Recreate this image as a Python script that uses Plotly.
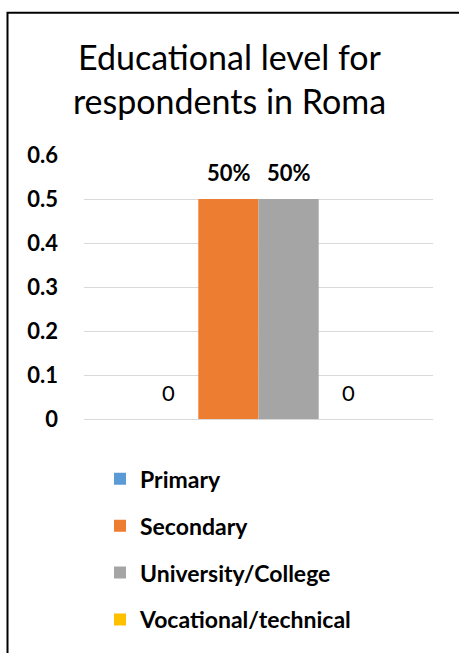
import plotly.graph_objects as go

# Survey result: share of respondents by educational level (Roma)
category = ["Roma"]
series_names = ["Primary", "Secondary", "University/College", "Vocational/technical"]
series_values = [0, 0.5, 0.5, 0]
series_colors = ["#5B9BD5", "#ED7D31", "#A5A5A5", "#FFC000"]
y_ticks = [0, 0.1, 0.2, 0.3, 0.4, 0.5, 0.6]
y_tick_labels = ["0", "0.1", "0.2", "0.3", "0.4", "0.5", "0.6"]

FONT = "Lato"

W, H = 459, 653
ML, MR, MT, MB = 84, 26, 155, 229
PW = W - ML - MR
PH = H - MT - MB


def px_x(p):
    return (p - ML) / PW


def px_y(p):
    return (H - MB - p) / PH


fig = go.Figure()
for i, (name, val, col) in enumerate(zip(series_names, series_values, series_colors)):
    fig.add_trace(go.Bar(
        x=category, y=[val], name=name,
        marker=dict(color=col, line=dict(width=0)),
        legendgroup=name,
    ))

# data labels above each bar, offset within the group
n = len(series_names)
bar_px = 60
for i, val in enumerate(series_values):
    label = f"{val:.0%}" if val > 0 else "0"
    fig.add_annotation(
        x=category[0], y=val, xref="x", yref="y",
        text=f"<b>{label}</b>" if val > 0 else label,
        showarrow=False, yanchor="middle",
        xshift=(i - (n - 1) / 2) * bar_px, yshift=27,
        font=dict(family=FONT, size=22, color="#000000"),
    )

# outer frame of the chart
fig.add_shape(
    type="rect", xref="paper", yref="paper",
    x0=px_x(7.5), x1=px_x(470), y0=px_y(670), y1=px_y(10),
    line=dict(color="#000000", width=2), fillcolor="rgba(0,0,0,0)",
)

fig.update_layout(
    width=W, height=H,
    margin=dict(l=ML, r=MR, t=MT, b=MB, pad=0),
    paper_bgcolor="#FFFFFF", plot_bgcolor="#FFFFFF",
    barmode="group", bargap=0.31, bargroupgap=0,
    title=dict(
        text="Educational level for<br>respondents in Roma",
        x=0.5, xref="container", xanchor="center",
        y=1 - 70 / H, yanchor="middle", yref="container",
        font=dict(family=FONT, size=34, color="#000000"),
    ),
    xaxis=dict(showticklabels=False, showgrid=False, zeroline=False,
               showline=False, ticks=""),
    yaxis=dict(range=[0, 0.6], tickvals=y_ticks, ticktext=y_tick_labels,
               showgrid=True, gridcolor="#D9D9D9", gridwidth=1,
               zeroline=True, zerolinecolor="#D9D9D9", zerolinewidth=1,
               showline=False, ticks="", ticklabelstandoff=25,
               tickfont=dict(family=FONT, size=22, color="#000000",
                             weight="bold")),
    showlegend=True,
    legend=dict(
        orientation="v", x=px_x(100), xanchor="left",
        y=px_y(463), yanchor="top",
        font=dict(family=FONT, size=23, color="#000000", weight="bold"),
        tracegroupgap=14, itemclick=False,
        bgcolor="rgba(0,0,0,0)",
    ),
)

fig.write_html("out.html")
